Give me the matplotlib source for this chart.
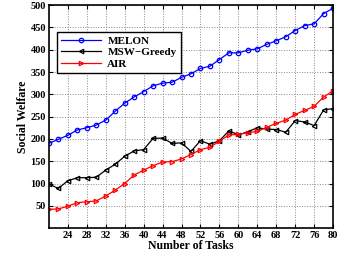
import numpy as np
import matplotlib
matplotlib.use("Agg")
import matplotlib.pyplot as plt

# number of tasks on the x axis
tasks = list(range(20, 81, 2))

# social welfare per algorithm
melon = [190, 199, 208, 220, 225, 231, 242, 262, 280, 294, 306, 319, 325, 327,
         338, 346, 358, 363, 378, 393, 393, 399, 402, 412, 420, 429, 443, 454,
         458, 481, 493]
msw_greedy = [99, 89, 106, 113, 113, 114, 130, 143, 161, 173, 176, 201, 202, 190,
              191, 172, 196, 188, 196, 218, 209, 216, 225, 222, 221, 215, 241, 238,
              230, 265, 268]
air = [42, 43, 49, 57, 59, 61, 72, 85, 100, 119, 130, 140, 148, 149,
       155, 165, 176, 181, 195, 209, 210, 214, 217, 226, 235, 242, 255, 264,
       273, 294, 308]

xticks = list(range(24, 81, 4))
yticks = list(range(50, 501, 50))

plt.rcParams['font.family'] = ['Liberation Serif', 'DejaVu Serif']
plt.rcParams['font.weight'] = 'bold'

fig = plt.figure(figsize=(3.54, 2.56), dpi=100)
ax = fig.add_axes([0.138, 0.109, 0.803, 0.871])

style = dict(markersize=3.2, markerfacecolor='none', markeredgewidth=0.9, linewidth=0.9)
ax.plot(tasks, melon, color='blue', marker='o', label='MELON', **style)
ax.plot(tasks, msw_greedy, color='black', marker='<', label='MSW\u2212Greedy', **style)
ax.plot(tasks, air, color='red', marker='>', label='AIR', **style)

ax.set_xlim(20, 80)
ax.set_ylim(0, 500)
ax.set_xticks(xticks)
ax.set_yticks(yticks)
ax.tick_params(direction='in', top=True, right=True, length=3, labelsize=7.5, pad=2)
for lab in ax.get_xticklabels() + ax.get_yticklabels():
    lab.set_fontweight('bold')
ax.grid(True, linestyle=':', color='#888888', linewidth=0.7)
for sp in ax.spines.values():
    sp.set_linewidth(1.2)

ax.set_xlabel('Number of Tasks', fontsize=8.5, fontweight='bold', labelpad=0)
ax.set_ylabel('Social Welfare', fontsize=8.5, fontweight='bold', labelpad=1)

leg = ax.legend(loc='upper left', bbox_to_anchor=(0.028, 0.879), borderaxespad=0,
                prop={'weight': 'bold', 'size': 8}, fancybox=False, framealpha=1,
                edgecolor='black', handlelength=3.6, borderpad=0.35, labelspacing=0.15,
                handletextpad=0.6)
leg.get_frame().set_linewidth(1.0)

fig.savefig('out.png', dpi=100)
